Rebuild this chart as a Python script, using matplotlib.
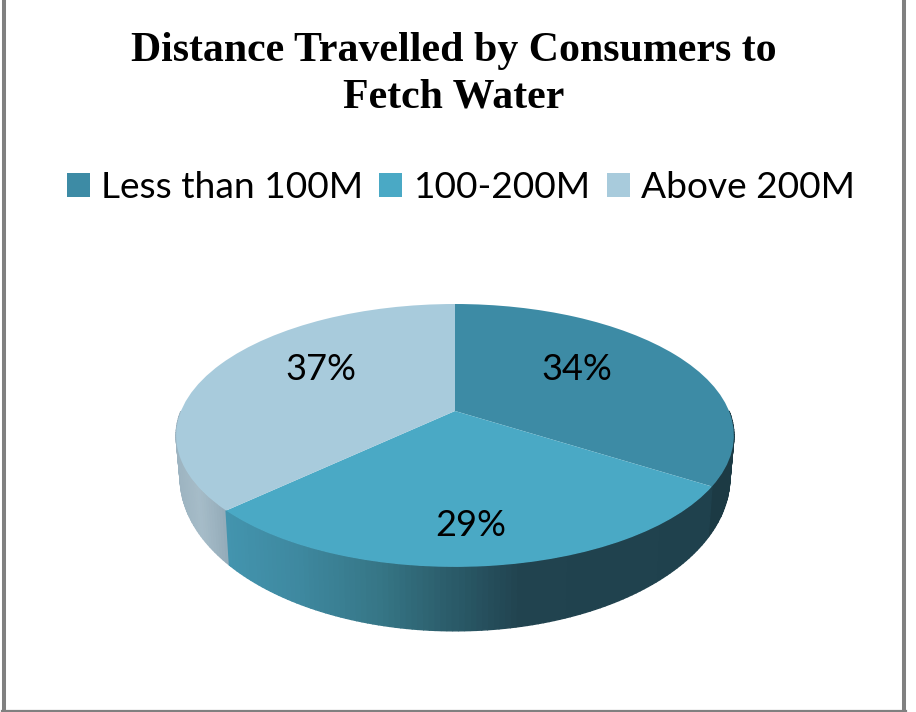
import numpy as np
import matplotlib
matplotlib.use("Agg")
import matplotlib.pyplot as plt
from matplotlib.colors import to_rgb
from matplotlib.lines import Line2D
from matplotlib.transforms import Transform

title = "Distance Travelled by Consumers to\nFetch Water"
categories = ["Less than 100M", "100-200M", "Above 200M"]
values = [34, 29, 37]
colors = ["#3d8ba5", "#4aa9c5", "#a8cbdc"]
label_pos = [(577, 369), (471, 525), (321, 369)]

# side shading: (pixel x, colour) stops for each slice
side_stops = [
    [(706, "#1c3a44"), (734, "#1c3a44")],
    [(228, "#4394ae"), (300, "#3e889f"), (380, "#367686"), (455, "#2a5a68"),
     (520, "#21434f"), (706, "#1f414d")],
    [(178, "#9db4c1"), (200, "#a6bcc8"), (228, "#92aab8")],
]


class Tilt(Transform):
    """Perspective view of the unit circle of a pie, in pixel coordinates."""
    input_dims = output_dims = 2

    def __init__(self, cx, cy, ax_, ay_, k=0.186):
        super().__init__()
        self.p = (cx, cy, ax_, ay_, k)

    def transform_non_affine(self, xy):
        cx, cy, a, b, k = self.p
        xy = np.asarray(xy, float)
        w = 1 + k * xy[:, 1]
        return np.column_stack([cx + a * xy[:, 0] / w, cy - b * xy[:, 1] / w])


top = Tilt(455, 411, 274, 126.9)
bottom = Tilt(455, 449, 270, 148)

fig = plt.figure(figsize=(9.16, 7.12), dpi=100, facecolor="white")
ax = fig.add_axes([0, 0, 1, 1])

wedges, _ = ax.pie(values, colors=colors, startangle=90, counterclock=False,
                   wedgeprops=dict(linewidth=0))
ax.set_aspect("auto")
ax.set_xlim(0, 916)
ax.set_ylim(712, 0)
ax.axis("off")
for w in wedges:
    w.set_transform(top + ax.transData)
    w.set_zorder(5)

edges = np.cumsum([0] + values) / np.sum(values) * 360.0
for i in range(len(values)):
    ts = np.arange(edges[i], edges[i + 1] + 1e-9, 1.0)
    if ts[-1] < edges[i + 1]:
        ts = np.append(ts, edges[i + 1])
    xs, rgb = zip(*[(x, to_rgb(c)) for x, c in side_stops[i]])
    rgb = np.array(rgb)
    for t0, t1 in zip(ts[:-1], ts[1:]):
        unit = np.array([[np.sin(np.radians(t)), np.cos(np.radians(t))] for t in (t0, t1)])
        if unit[:, 1].mean() > 0.0:
            continue
        up = top.transform_non_affine(unit)
        lo = bottom.transform_non_affine(unit)
        mx = up[:, 0].mean()
        col = tuple(np.interp(mx, xs, rgb[:, c]) for c in range(3))
        z = 2 - unit[:, 1].mean()
        ax.fill([up[0, 0], up[1, 0], lo[1, 0], lo[0, 0]],
                [up[0, 1], up[1, 1], lo[1, 1], lo[0, 1]],
                facecolor=col, edgecolor=col, linewidth=1.0, zorder=z)

for v, (x, y) in zip(values, label_pos):
    ax.text(x, y, f"{v}%", ha="center", va="center", fontsize=26,
            family="Lato", color="black", zorder=6)

ax.text(454, 74.5, title, ha="center", va="center", fontsize=30.2,
        family="Liberation Serif", fontweight="bold", color="black",
        linespacing=1.28, zorder=6)

fs = 26.7
ax.legend(wedges, categories, loc="center", ncols=3,
          bbox_to_anchor=(461 / 916, 1 - 188 / 712), frameon=False,
          prop=dict(family="Lato", size=fs),
          handlelength=0.62, handleheight=0.62, handletextpad=0.3,
          columnspacing=0.45, borderpad=0, borderaxespad=0)

for xs_, ys_ in [((4, 4), (0, 710.5)), ((904, 904), (0, 710.5)), ((2, 906), (710.5, 710.5))]:
    ax.add_line(Line2D(xs_, ys_, color="#808080", linewidth=2.9 if xs_[0] == xs_[1] else 1.6,
                       zorder=7, clip_on=False))

fig.savefig("out.png", dpi=100, facecolor="white")
